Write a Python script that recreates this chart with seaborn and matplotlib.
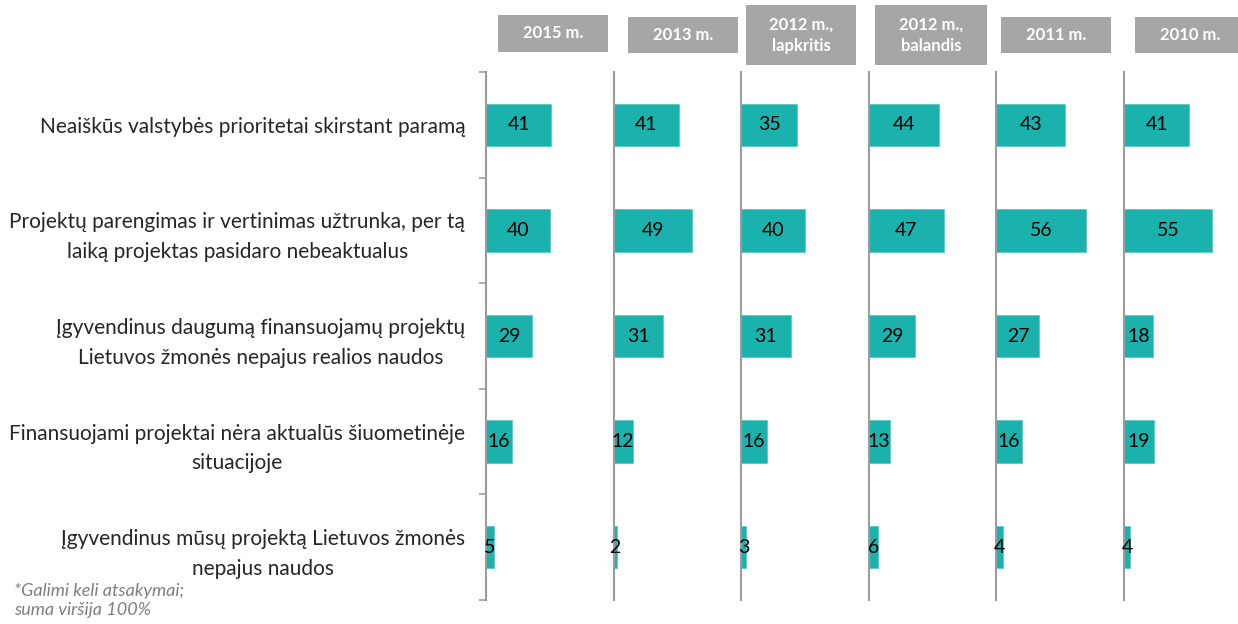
import numpy as np
import pandas as pd
import matplotlib
matplotlib.use("Agg")
import matplotlib.pyplot as plt
import seaborn as sns
from matplotlib.patches import Rectangle

# Data
categories = [
    "Neaiškūs valstybės prioritetai skirstant paramą",
    "Projektų parengimas ir vertinimas užtrunka, per tą\nlaiką projektas pasidaro nebeaktualus",
    "Įgyvendinus daugumą finansuojamų projektų\nLietuvos žmonės nepajus realios naudos",
    "Finansuojami projektai nėra aktualūs šiuometinėje\nsituacijoje",
    "Įgyvendinus mūsų projektą Lietuvos žmonės\nnepajus naudos",
]
periods = ["2015 m.", "2013 m.", "2012 m.,\nlapkritis", "2012 m.,\nbalandis", "2011 m.", "2010 m."]
v2015 = [41, 40, 29, 16, 5]
v2013 = [41, 49, 31, 12, 2]
v2012_lap = [35, 40, 31, 16, 3]
v2012_bal = [44, 47, 29, 13, 6]
v2011 = [43, 56, 27, 16, 4]
v2010 = [41, 55, 18, 19, 4]
footnote = "*Galimi keli atsakymai;\nsuma viršija 100%"

series = [v2015, v2013, v2012_lap, v2012_bal, v2011, v2010]

sns.set_style("white")
plt.rcParams["font.family"] = ["Lato", "DejaVu Sans"]

TEAL = "#1bb1ac"
GRAY_LINE = "#9c9c9c"
HEADER_GRAY = "#a6a6a6"

W, H = 1238, 624
fig = plt.figure(figsize=(W / 100, H / 100), dpi=100)

# layout in pixels
panel_left0 = 486
panel_step = 127.6
top_px, bottom_px = 72, 600
# header boxes: (left px, top px, width px, height px)
header_boxes = [(498, 15, 110, 37), (628, 17, 110, 36), (746, 5, 110, 60),
                (875, 5, 112, 60), (1001, 17, 110, 36), (1135, 17, 110, 36)]

for i, (period, vals) in enumerate(zip(periods, series)):
    left = (panel_left0 + panel_step * i) / W
    ax = fig.add_axes([left, (H - bottom_px) / H, panel_step / W, (bottom_px - top_px) / H])
    df = pd.DataFrame({"cat": categories, "val": vals})
    sns.barplot(data=df, x="val", y="cat", orient="h", ax=ax, color=TEAL,
                width=0.4, edgecolor="#5cc8c4", linewidth=0.6, saturation=1)
    ax.bar_label(ax.containers[0], label_type="center", fontsize=14, color="black")
    ax.set_xlim(0, 80)
    ax.set_ylim(len(categories) - 0.5, -0.5)
    ax.set_xlabel("")
    ax.set_ylabel("")
    ax.set_xticks([])
    for s in ["top", "right", "bottom"]:
        ax.spines[s].set_visible(False)
    ax.spines["left"].set_color(GRAY_LINE)
    ax.spines["left"].set_linewidth(1.5)
    ax.patch.set_alpha(0)
    if i == 0:
        ax.set_yticks(range(len(categories)))
        ax.set_yticklabels(categories, fontsize=15, multialignment="center", linespacing=1.6)
        ax.tick_params(axis="y", which="major", left=True, length=0, pad=15)
        ax.set_yticks(np.arange(-0.5, len(categories)), minor=True)
        ax.tick_params(axis="y", which="minor", left=True, length=5, width=1.2, color=GRAY_LINE)
    else:
        ax.set_yticks([])

    bx, by, bw, bh = header_boxes[i]
    fig.patches.append(Rectangle((bx / W, 1 - (by + bh) / H), bw / W, bh / H,
                                 transform=fig.transFigure, facecolor=HEADER_GRAY,
                                 edgecolor="none", zorder=1))
    fig.text((bx + bw / 2) / W, 1 - (by + bh / 2) / H, period, ha="center", va="center",
             color="white", fontsize=12, fontweight="bold", linespacing=1.4, zorder=2)

fig.text(14 / W, 1 - 583 / H, footnote, ha="left", va="top", fontsize=13,
         style="italic", color="#7f7f7f", linespacing=1.2)

fig.savefig("out.png", dpi=100)
